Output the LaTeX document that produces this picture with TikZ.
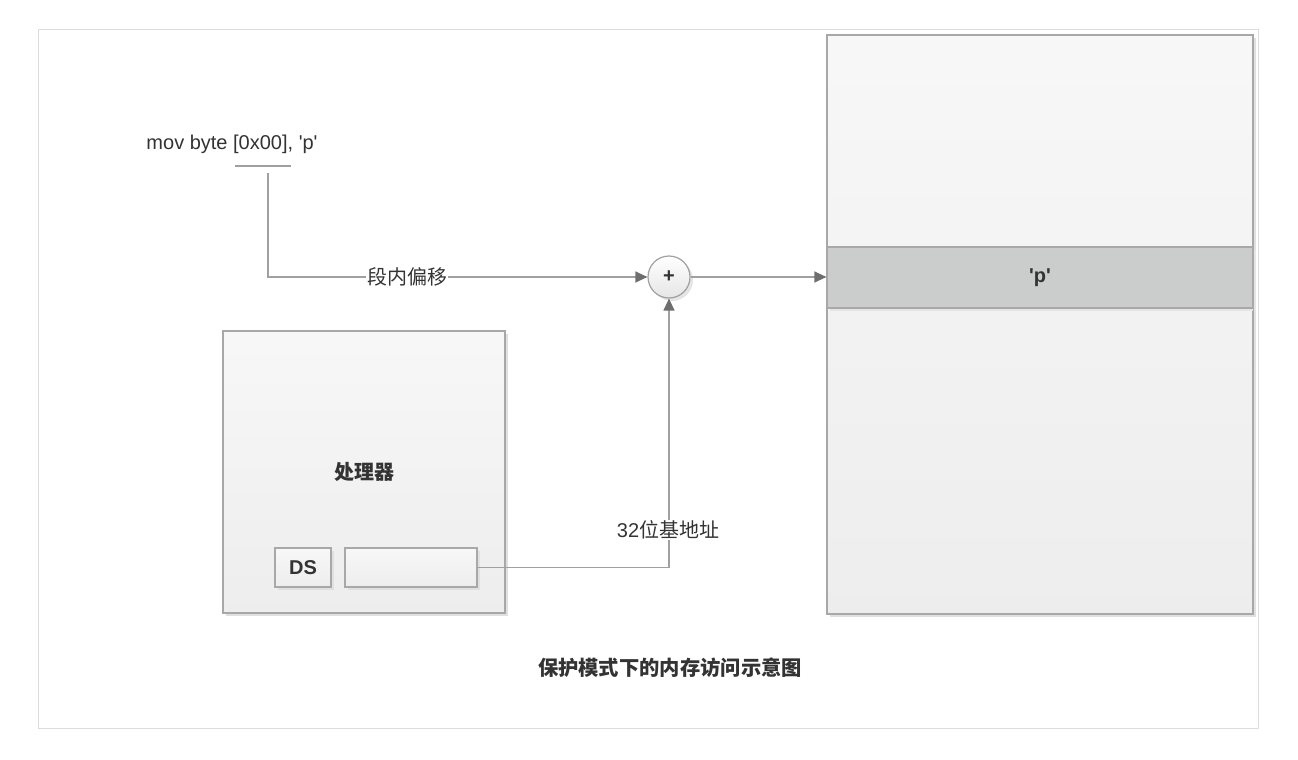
\documentclass[tikz,border=0pt]{standalone}
\usepackage{fontspec}
\setmainfont{Liberation Sans}
\newfontfamily\cjk{Noto Sans CJK SC}
\usetikzlibrary{arrows.meta,shadows}
\definecolor{linec}{HTML}{A0A0A0}
\definecolor{tipc}{HTML}{6E6E6E}
\definecolor{boxc}{HTML}{A8A8A8}
\definecolor{framec}{HTML}{DDDDDD}
\definecolor{txt}{HTML}{333333}
\definecolor{bandc}{HTML}{CBCDCC}
\tikzset{
  box/.style={draw=boxc, line width=1.2pt, top color=white!97!black, bottom color=white!93!black,
    inner sep=0pt, drop shadow={shadow xshift=3pt, shadow yshift=-3pt, fill=black!12, opacity=1}},
  conn/.style={draw=linec, line width=1.3pt, -{Triangle[length=12pt,width=11pt,fill=tipc,color=tipc]}},
  plain/.style={draw=linec, line width=1.3pt},
  lbl/.style={fill=white, inner sep=1pt, text=txt},
}
\begin{document}
\begin{tikzpicture}[x=1pt,y=-1pt, font=\fontsize{20}{24}\selectfont]
\useasboundingbox (0,0) rectangle (1298,760);
\draw[framec, line width=1pt] (38,30) rectangle (1258,728);

% memory
\node[box, minimum width=426pt, minimum height=579pt] (mem) at (1040,324.5) {};
\node[draw=boxc, line width=1.2pt, fill=bandc, inner sep=0pt, minimum width=426pt, minimum height=61pt,
  drop shadow={shadow xshift=3pt, shadow yshift=-3pt, fill=black!10, opacity=1},
  text=txt, font=\fontsize{20}{24}\selectfont\bfseries] (band) at (1040,277.5) {\textquotesingle p\textquotesingle};
\draw[boxc, line width=1.2pt] (mem.north west) rectangle (mem.south east);

% processor
\node[box, minimum width=282pt, minimum height=282pt] (cpu) at (364,472) {};
\node[text=txt, font=\fontsize{20}{24}\selectfont\cjk\bfseries] (cpul) at (364,472) {处理器};
\node[box, minimum width=56pt, minimum height=39pt, text=txt, font=\fontsize{20}{24}\selectfont\bfseries] (ds) at (303,567.5) {DS};
\node[box, minimum width=132pt, minimum height=39pt] (reg) at (411,567.5) {};

% adder
\node[circle, draw=linec, line width=1.2pt, top color=white, bottom color=white!90!black, minimum size=42pt, inner sep=0pt,
  drop shadow={shadow xshift=3pt, shadow yshift=-3pt, fill=black!10, opacity=1},
  text=txt, font=\fontsize{20}{24}\selectfont\bfseries] (plus) at (669,277) {+};

% instruction
\node[text=txt] (ins) at (232,144) {mov byte [0x00], \textquotesingle p\textquotesingle};
\coordinate (u1) at (235,166);
\coordinate (u2) at (291,166);
\draw[plain] (u1) -- (u2);
\coordinate (st) at (268,173);

% connectors
\draw[conn] (st) |- (plus.west);
\node[lbl, font=\fontsize{20}{24}\selectfont\cjk] (offl) at (407,277) {段内偏移};
\draw[conn] (plus.east) -- (plus.east -| band.west);
\draw[conn] (reg.east) -| (plus.south);
\node[lbl] (basel) at (668,530) {32{\cjk 位基地址}};

% title
\node[text=txt, font=\fontsize{20.3}{24}\selectfont\cjk\bfseries] (title) at (670,668) {保护模式下的内存访问示意图};
\end{tikzpicture}
\end{document}
